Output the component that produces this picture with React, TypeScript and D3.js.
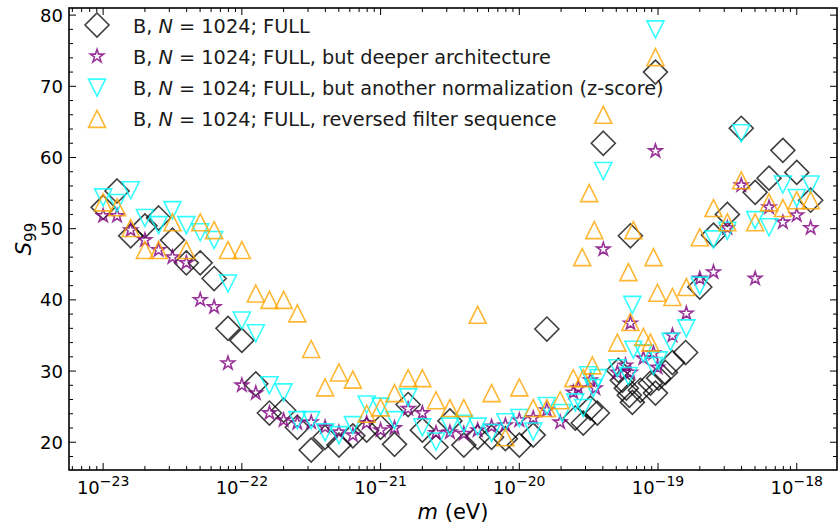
import React from 'react';
import * as d3 from 'd3';

const W = 838;
const H = 525;
const PLOT = { left: 69, right: 837, top: 8, bottom: 470 };
const X_DOMAIN: [number, number] = [5.675e-24, 1.95e-18];
const Y_DOMAIN: [number, number] = [16.1, 81];

const xTickExponents = [-23, -22, -21, -20, -19, -18];
const yTickValues = [20, 30, 40, 50, 60, 70, 80];

// [m (eV), S99]
const fullPoints: [number, number][] = [
  [1.00e-23, 53.0], [1.26e-23, 55.3], [1.58e-23, 49.0], [2.00e-23, 50.4], [2.51e-23, 51.5],
  [3.16e-23, 48.4], [3.98e-23, 45.2], [5.01e-23, 45.2], [6.31e-23, 43.0], [7.94e-23, 36.0],
  [1.00e-22, 34.3], [1.26e-22, 28.2], [1.58e-22, 24.1], [2.00e-22, 24.5], [2.51e-22, 22.1],
  [3.16e-22, 18.9], [3.98e-22, 20.7], [5.01e-22, 19.6], [6.31e-22, 20.9], [7.94e-22, 21.7],
  [1.00e-21, 22.1], [1.26e-21, 19.7], [1.58e-21, 25.3], [2.00e-21, 21.7], [2.51e-21, 19.3],
  [3.16e-21, 23.0], [3.98e-21, 19.6], [5.01e-21, 20.7], [6.31e-21, 20.7], [7.94e-21, 20.5],
  [1.00e-20, 19.6], [1.26e-20, 21.0], [1.58e-20, 35.9],
  [2.53e-20, 23.4], [2.89e-20, 22.7], [3.25e-20, 24.8], [3.65e-20, 24.1], [4.03e-20, 62.0],
  [5.18e-20, 30.1], [5.53e-20, 28.7], [5.91e-20, 27.6], [6.21e-20, 26.6], [6.53e-20, 25.6],
  [6.32e-20, 49.0], [7.46e-20, 27.3], [8.81e-20, 28.3], [9.58e-20, 26.9], [9.58e-20, 72.0],
  [1.01e-19, 29.0], [1.13e-19, 29.8], [1.27e-19, 31.2],
  [1.58e-19, 32.6], [2.00e-19, 41.8], [2.51e-19, 49.1], [3.16e-19, 52.0], [3.98e-19, 64.1],
  [5.01e-19, 55.1], [6.31e-19, 57.1], [7.94e-19, 61.0], [1.00e-18, 57.9], [1.26e-18, 54.0],
];

const deeperPoints: [number, number][] = [
  [1.00e-23, 51.8], [1.26e-23, 51.8], [1.58e-23, 49.8], [2.00e-23, 48.4], [2.51e-23, 47.0],
  [3.16e-23, 46.0], [3.98e-23, 45.2], [5.01e-23, 40.0], [6.31e-23, 39.0], [7.94e-23, 31.1],
  [1.00e-22, 28.0], [1.26e-22, 26.9], [1.58e-22, 24.1], [2.00e-22, 23.1], [2.51e-22, 22.7],
  [3.16e-22, 22.8], [3.98e-22, 22.1], [5.01e-22, 21.4], [6.31e-22, 21.0], [7.94e-22, 22.7],
  [1.00e-21, 21.7], [1.26e-21, 22.0], [1.58e-21, 24.7], [2.00e-21, 24.1], [2.51e-21, 21.3],
  [3.16e-21, 21.4], [3.98e-21, 21.2], [5.01e-21, 21.7], [6.31e-21, 22.2], [7.94e-21, 22.4],
  [1.00e-20, 23.1], [1.26e-20, 23.4], [1.58e-20, 24.5],
  [1.97e-20, 22.8], [2.45e-20, 27.0], [2.66e-20, 27.6], [3.25e-20, 28.7], [3.53e-20, 27.6],
  [4.03e-20, 47.1], [5.09e-20, 29.8], [5.82e-20, 30.8], [6.32e-20, 36.7], [6.32e-20, 29.8],
  [7.84e-20, 31.8], [9.27e-20, 32.5], [9.90e-20, 30.5], [9.58e-20, 60.9], [1.27e-19, 35.0],
  [1.60e-19, 38.1],
  [2.00e-19, 43.0], [2.51e-19, 43.9], [3.16e-19, 50.1], [3.98e-19, 56.1], [5.01e-19, 43.0],
  [6.31e-19, 53.0], [7.94e-19, 50.9], [1.00e-18, 51.9], [1.26e-18, 50.1],
];

const zscorePoints: [number, number][] = [
  [1.00e-23, 54.4], [1.26e-23, 53.6], [1.58e-23, 55.4], [2.00e-23, 51.5], [2.51e-23, 50.5],
  [3.16e-23, 52.6], [3.98e-23, 50.5], [5.01e-23, 49.5], [6.31e-23, 48.4], [7.94e-23, 42.3],
  [1.00e-22, 37.1], [1.26e-22, 35.3], [1.58e-22, 28.0], [2.00e-22, 27.0], [2.51e-22, 23.1],
  [3.16e-22, 23.1], [3.98e-22, 21.4], [5.01e-22, 21.0], [6.31e-22, 22.4], [7.94e-22, 25.3],
  [1.00e-21, 25.0], [1.26e-21, 23.1], [1.58e-21, 26.3], [2.00e-21, 22.1], [2.51e-21, 20.1],
  [3.16e-21, 22.2], [3.98e-21, 22.6], [5.01e-21, 22.2], [6.31e-21, 21.3], [7.94e-21, 22.8],
  [1.00e-20, 23.4], [1.26e-20, 21.5], [1.58e-20, 25.1],
  [2.04e-20, 24.1], [2.53e-20, 25.6], [2.89e-20, 24.8], [3.14e-20, 29.4], [3.41e-20, 27.6],
  [3.71e-20, 29.0], [4.03e-20, 58.1], [5.09e-20, 30.4], [6.11e-20, 29.3], [6.53e-20, 39.3],
  [6.64e-20, 33.0], [7.84e-20, 32.5], [9.27e-20, 30.7], [1.01e-19, 31.5], [9.58e-20, 78.0],
  [1.23e-19, 34.1], [1.60e-19, 36.0],
  [2.00e-19, 42.0], [2.51e-19, 48.5], [3.16e-19, 49.7], [3.98e-19, 63.4], [5.01e-19, 51.2],
  [6.31e-19, 50.2], [7.94e-19, 56.2], [1.00e-18, 54.3], [1.26e-18, 56.2],
];

const reversedPoints: [number, number][] = [
  [1.00e-23, 53.7], [1.26e-23, 53.0], [1.58e-23, 50.1], [2.00e-23, 47.0], [2.51e-23, 47.0],
  [3.16e-23, 50.9], [3.98e-23, 47.0], [5.01e-23, 50.9], [6.31e-23, 49.8], [7.94e-23, 47.0],
  [1.00e-22, 47.0], [1.26e-22, 40.9], [1.58e-22, 40.0], [2.00e-22, 40.0], [2.51e-22, 38.1],
  [3.16e-22, 33.1], [3.98e-22, 27.7], [5.01e-22, 29.8], [6.31e-22, 28.8], [7.94e-22, 24.0],
  [1.00e-21, 24.9], [1.26e-21, 26.9], [1.58e-21, 29.0], [2.00e-21, 29.0], [2.51e-21, 25.9],
  [3.16e-21, 24.8], [3.98e-21, 24.8], [5.01e-21, 37.9], [6.31e-21, 26.9], [7.94e-21, 20.7],
  [1.00e-20, 27.7], [1.26e-20, 24.8], [1.58e-20, 24.8],
  [1.97e-20, 25.9], [2.45e-20, 29.0], [2.84e-20, 46.0], [2.89e-20, 29.0], [3.19e-20, 55.0],
  [3.36e-20, 30.8], [3.47e-20, 49.8], [4.03e-20, 66.0], [5.09e-20, 34.0], [6.11e-20, 43.9],
  [6.32e-20, 36.9], [6.64e-20, 49.8], [7.84e-20, 34.8], [8.81e-20, 34.0], [9.27e-20, 46.0],
  [9.58e-20, 74.1], [9.90e-20, 41.0], [1.27e-19, 40.4], [1.60e-19, 41.8],
  [2.00e-19, 48.8], [2.51e-19, 52.9], [3.16e-19, 50.9], [3.98e-19, 56.8], [5.01e-19, 50.9],
  [6.31e-19, 53.7], [7.94e-19, 52.9], [1.00e-18, 54.0], [1.26e-18, 54.0],
];

const legendSuffixes = [
  'FULL',
  'FULL, but deeper architecture',
  'FULL, but another normalization (z-score)',
  'FULL, reversed filter sequence',
];

type Shape = 'diamond' | 'star' | 'tridown' | 'triup';

const seriesList: { points: [number, number][]; shape: Shape; color: string }[] = [
  { points: fullPoints, shape: 'diamond', color: '#000000' },
  { points: deeperPoints, shape: 'star', color: '#800080' },
  { points: zscorePoints, shape: 'tridown', color: '#00ffff' },
  { points: reversedPoints, shape: 'triup', color: '#ffa500' },
];

function markerPath(shape: Shape): string {
  if (shape === 'diamond') {
    const r = 12;
    return `M0,${-r}L${r},0L0,${r}L${-r},0Z`;
  }
  if (shape === 'tridown') {
    const r = 8.5;
    return `M0,${r}L${-r},${-r}L${r},${-r}Z`;
  }
  if (shape === 'triup') {
    const r = 8.5;
    return `M0,${-r}L${-r},${r}L${r},${r}Z`;
  }
  const R = 7;
  const ri = R * 0.381966;
  const pts: string[] = [];
  for (let i = 0; i < 10; i++) {
    const a = (Math.PI / 5) * i - Math.PI / 2;
    const rr = i % 2 === 0 ? R : ri;
    pts.push(`${(rr * Math.cos(a)).toFixed(2)},${(rr * Math.sin(a)).toFixed(2)}`);
  }
  return 'M' + pts.join('L') + 'Z';
}

export default function App() {
  const x = d3.scaleLog().domain(X_DOMAIN).range([PLOT.left, PLOT.right]);
  const y = d3.scaleLinear().domain(Y_DOMAIN).range([PLOT.bottom, PLOT.top]);

  const minorX: number[] = [];
  for (let e = -24; e <= -18; e++) {
    for (let k = 2; k <= 9; k++) {
      const v = k * Math.pow(10, e);
      if (v > X_DOMAIN[0] && v < X_DOMAIN[1]) minorX.push(v);
    }
  }
  const minorY: number[] = [];
  for (let v = 18; v <= 80; v += 2) if (v % 10 !== 0) minorY.push(v);

  const font = 'DejaVu Sans, sans-serif';
  const majorLen = 7;
  const minorLen = 4;

  return (
    <div style={{ position: 'absolute', left: 0, top: 0 }}>
      <svg width={W} height={H} xmlns="http://www.w3.org/2000/svg" style={{ display: 'block', background: '#fff' }}>
        <defs>
          <clipPath id="plotclip">
            <rect x={PLOT.left} y={PLOT.top} width={PLOT.right - PLOT.left} height={PLOT.bottom - PLOT.top} />
          </clipPath>
        </defs>
        {/* markers */}
        <g clipPath="url(#plotclip)">
          {seriesList.map((s, si) => (
            <g key={si} stroke={s.color} strokeOpacity={s.shape === 'diamond' ? 0.75 : 0.8} fill="none" strokeWidth={1.6}>
              {s.points.map((p, i) => (
                <path key={i} d={markerPath(s.shape)} transform={`translate(${x(p[0])},${y(p[1])})`} />
              ))}
            </g>
          ))}
        </g>
        {/* ticks */}
        <g stroke="#000" strokeWidth={1}>
          {xTickExponents.map((e) => {
            const px = x(Math.pow(10, e));
            return (
              <g key={e}>
                <line x1={px} x2={px} y1={PLOT.bottom} y2={PLOT.bottom - majorLen} />
                <line x1={px} x2={px} y1={PLOT.top} y2={PLOT.top + majorLen} />
              </g>
            );
          })}
          {minorX.map((v, i) => {
            const px = x(v);
            return (
              <g key={i}>
                <line x1={px} x2={px} y1={PLOT.bottom} y2={PLOT.bottom - minorLen} />
                <line x1={px} x2={px} y1={PLOT.top} y2={PLOT.top + minorLen} />
              </g>
            );
          })}
          {yTickValues.map((v) => {
            const py = y(v);
            return (
              <g key={v}>
                <line x1={PLOT.left} x2={PLOT.left + majorLen} y1={py} y2={py} />
                <line x1={PLOT.right} x2={PLOT.right - majorLen} y1={py} y2={py} />
              </g>
            );
          })}
          {minorY.map((v) => {
            const py = y(v);
            return (
              <g key={v}>
                <line x1={PLOT.left} x2={PLOT.left + minorLen} y1={py} y2={py} />
                <line x1={PLOT.right} x2={PLOT.right - minorLen} y1={py} y2={py} />
              </g>
            );
          })}
        </g>
        {/* spines */}
        <rect x={PLOT.left} y={PLOT.top} width={PLOT.right - PLOT.left} height={PLOT.bottom - PLOT.top} fill="none" stroke="#000" strokeWidth={1.6} />
        {/* tick labels */}
        <g fontFamily={font} fill="#000">
          {yTickValues.map((v) => (
            <text key={v} x={PLOT.left - 6} y={y(v)} dy="0.36em" fontSize={18} textAnchor="end">{v}</text>
          ))}
          {xTickExponents.map((e) => (
            <text key={e} x={x(Math.pow(10, e))} y={PLOT.bottom + 24} fontSize={18} textAnchor="middle">
              10<tspan fontSize={14} dy={-8}>{'\u2212' + Math.abs(e)}</tspan>
            </text>
          ))}
        </g>
        {/* axis labels */}
        <text x={(PLOT.left + PLOT.right) / 2} y={519} fontFamily={font} fontSize={21} textAnchor="middle">
          <tspan fontStyle="italic">m</tspan> (eV)
        </text>
        <text transform={`translate(31,${(PLOT.top + PLOT.bottom) / 2}) rotate(-90)`} fontFamily={font} fontSize={21} textAnchor="middle">
          <tspan fontStyle="italic">S</tspan><tspan fontSize={15} dy={5}>99</tspan>
        </text>
        {/* legend */}
        <g fontFamily={font} fontSize={19.3}>
          {seriesList.map((s, i) => {
            const cy = 25 + i * 31.3;
            return (
              <g key={i}>
                <path d={markerPath(s.shape)} transform={`translate(97,${cy})`} fill="none" stroke={s.color} strokeOpacity={s.shape === 'diamond' ? 0.75 : 0.8} strokeWidth={1.6} />
                <text x={133} y={cy + 7.5} fill="#1a1a1a">
                  B, <tspan fontStyle="italic">N</tspan> = 1024; {legendSuffixes[i]}
                </text>
              </g>
            );
          })}
        </g>
      </svg>
    </div>
  );
}
